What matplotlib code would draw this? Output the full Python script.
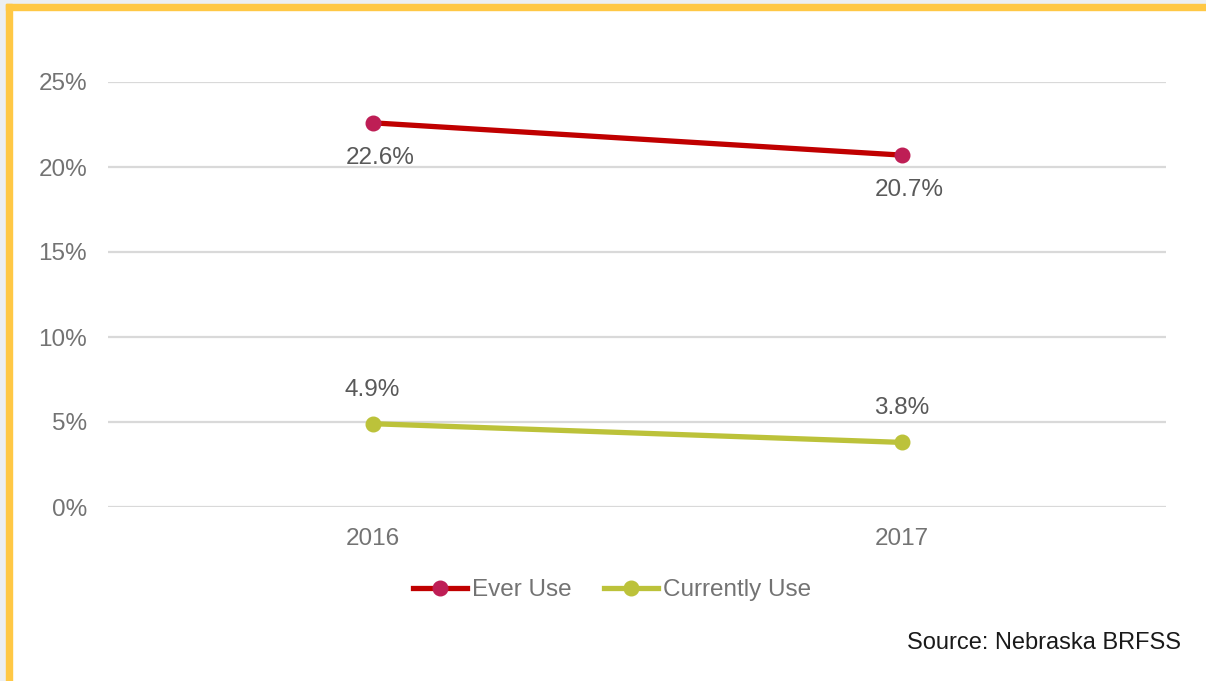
import matplotlib
matplotlib.use("Agg")
import matplotlib.pyplot as plt
from matplotlib.patches import Rectangle
from matplotlib.ticker import FuncFormatter
from matplotlib.lines import Line2D

years = ["2016", "2017"]
ever_use = [22.6, 20.7]
currently_use = [4.9, 3.8]
y_ticks = [0, 5, 10, 15, 20, 25]

plt.rcParams['font.family'] = ['Liberation Sans', 'DejaVu Sans']

W, H = 1206, 681
fig = plt.figure(figsize=(W / 100, H / 100), dpi=100)
fig.patch.set_facecolor('white')

# frame: gray background strip + yellow border
fig.add_artist(Rectangle((0, 0), 6 / W, 1, transform=fig.transFigure, color='#eceff2', zorder=0))
fig.add_artist(Rectangle((0, 1 - 4 / H), 1, 4 / H, transform=fig.transFigure, color='#eceff2', zorder=0))
fig.add_artist(Rectangle((6 / W, 0), 5.5 / W, 1 - 4 / H, transform=fig.transFigure, color='#ffc845', zorder=1))
fig.add_artist(Rectangle((6 / W, 1 - 9.5 / H), 1 - 6 / W, 5.5 / H, transform=fig.transFigure, color='#ffc845', zorder=1))

ax = fig.add_axes([108 / W, 1 - 507 / H, (1166 - 108) / W, (507 - 82) / H])
ax.set_facecolor('none')
x = list(range(len(years)))

ax.plot(x, ever_use, color='#c00000', lw=3.8, solid_capstyle='round', zorder=3)
ax.plot(x, ever_use, ls='none', marker='o', ms=10.5, color='#be1e55', zorder=4)
ax.plot(x, currently_use, color='#bcc23a', lw=3.8, solid_capstyle='round', zorder=3)
ax.plot(x, currently_use, ls='none', marker='o', ms=10.5, color='#bcc23a', zorder=4)

lab_col = '#595959'
for xi, v in zip(x, ever_use):
    ax.annotate(f"{v:.1f}%", (xi, v), xytext=(8, -35), textcoords='offset pixels',
                ha='center', va='center', fontsize=17.5, color=lab_col)
for xi, v in zip(x, currently_use):
    ax.annotate(f"{v:.1f}%", (xi, v), xytext=(0, 34), textcoords='offset pixels',
                ha='center', va='center', fontsize=17.5, color=lab_col)

ax.set_xlim(-0.5, 1.5)
ax.set_ylim(0, 25)
ax.set_yticks(y_ticks)
ax.yaxis.set_major_formatter(FuncFormatter(lambda v, p: f"{v:.0f}%"))
ax.set_xticks(x)
ax.set_xticklabels(years)
ax.tick_params(axis='both', length=0, labelsize=17.5, labelcolor='#737373')
ax.tick_params(axis='y', pad=15)
ax.tick_params(axis='x', pad=15)
ax.grid(axis='y', color='#d9d9d9', lw=1.6)
ax.set_axisbelow(True)
for s in ax.spines.values():
    s.set_visible(False)

handles = [
    Line2D([0], [0], color='#c00000', lw=3.8, marker='o', ms=10.5, mfc='#be1e55', mec='#be1e55'),
    Line2D([0], [0], color='#bcc23a', lw=3.8, marker='o', ms=10.5, mfc='#bcc23a', mec='#bcc23a'),
]
leg = fig.legend(handles, ["Ever Use", "Currently Use"], loc='center', ncol=2,
                 bbox_to_anchor=(612 / W, 1 - 590 / H), frameon=False, fontsize=17.5,
                 handlelength=2.25, handletextpad=0.2, columnspacing=1.3, labelcolor='#737373')

fig.text(1181 / W, 1 - 643 / H, "Source: Nebraska BRFSS", ha='right', va='center',
         fontsize=17, color='#1a1a1a')

fig.savefig("out.png", dpi=100)
